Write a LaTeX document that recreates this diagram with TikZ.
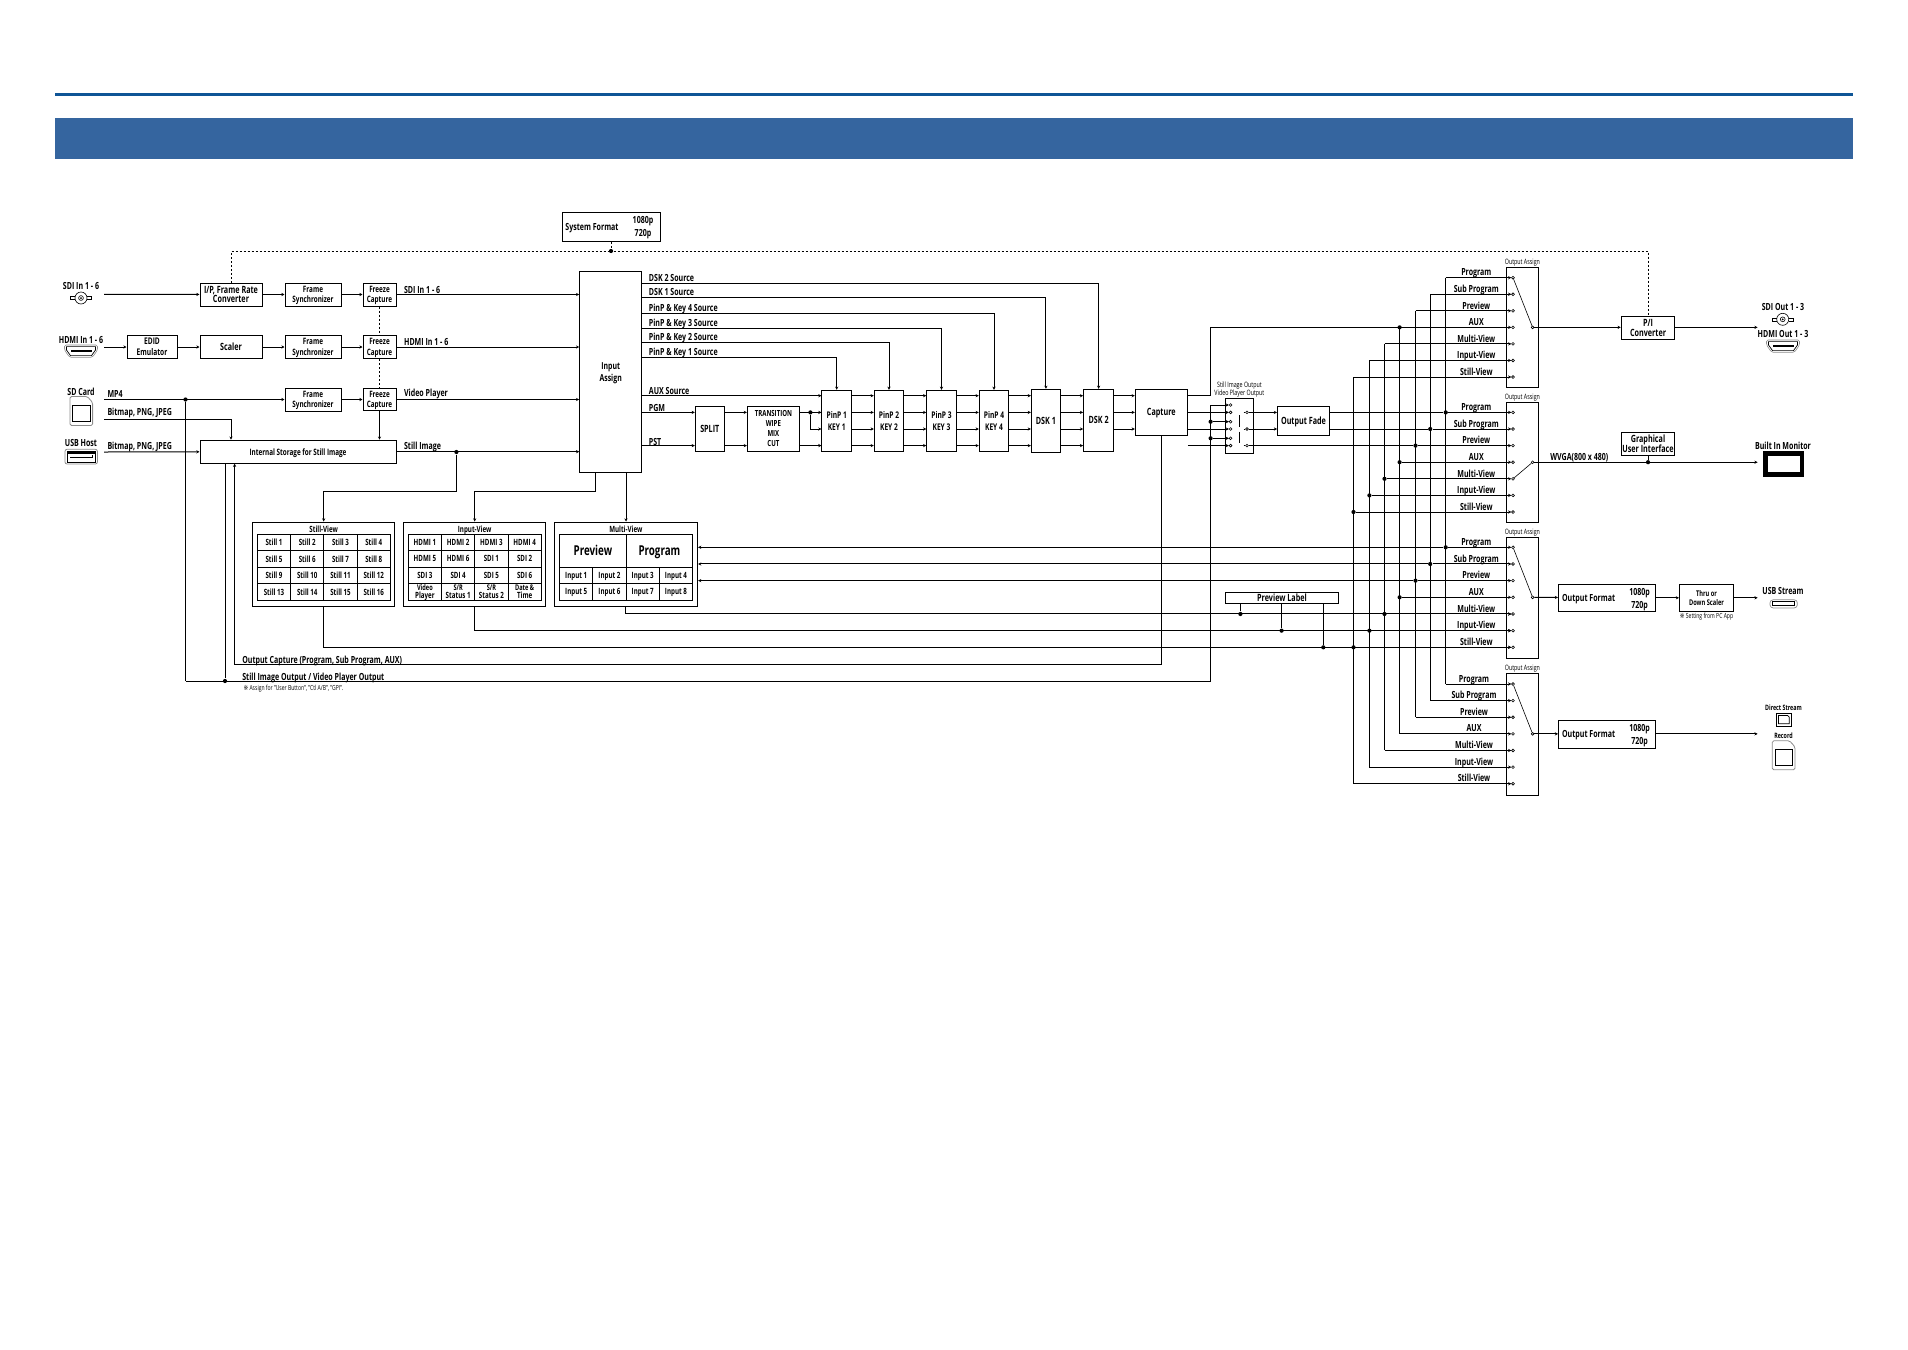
\documentclass[tikz,border=0pt]{standalone}
\usepackage{fontspec}
\setmainfont[FakeStretch=0.72]{Open Sans}
\newfontfamily\markfont[FakeStretch=0.8]{DejaVu Sans}
\usetikzlibrary{arrows.meta}
\definecolor{headrule}{HTML}{0F5596}
\definecolor{headband}{HTML}{35659F}
\definecolor{iconrim}{gray}{0.55}
\newcommand{\smallcell}{\fontsize{7.8}{7.6}\selectfont}
\tikzset{
  >={Stealth[length=3.2pt,width=3.2pt]},
  lab/.style={inner sep=0pt,text depth=0pt,font=\bfseries\fontsize{9.8}{11}\selectfont,align=center},
  reslab/.style={lab,font=\bfseries\fontsize{9.8}{12.7}\selectfont},
  tinylab/.style={inner sep=0pt,font=\fontsize{7.4}{7.6}\selectfont,align=center},
  notelab/.style={tinylab,font=\fontsize{7}{8}\selectfont},
  box/.style={draw,inner sep=0pt,text depth=0pt,font=\bfseries\fontsize{8.8}{10.7}\selectfont,align=center},
  bigbox/.style={box,font=\bfseries\fontsize{10}{10.7}\selectfont},
  cell/.style={box,font=\bfseries\fontsize{8.6}{7.8}\selectfont},
  pinpbox/.style={box,minimum width=29.5,minimum height=61,font=\bfseries\fontsize{9.2}{12}\selectfont},
  dotline/.style={dash pattern=on 2pt off 2pt},
  jdot/.style={circle,fill,inner sep=0pt,minimum size=4.2pt},
  contact/.style={circle,draw,fill=white,line width=0.6pt,inner sep=0pt,minimum size=2.8pt},
  pics/bnc/.style={code={
    \draw[line width=0.6pt] (0,0) circle (6);
    \draw[line width=0.6pt] (0,0) circle (2.4);
    \fill (0,0) circle (1);
    \draw[line width=0.6pt] (-6,-1.5) -- (-10.5,-1.5) -- (-10.5,1.5) -- (-6,1.5);
    \draw[line width=0.6pt] (6,-1.5) -- (10.5,-1.5) -- (10.5,1.5) -- (6,1.5);
  }},
  pics/hdmi/.style={code={
    \draw[iconrim,line width=0.6pt,rounded corners=1.5] (-16.5,-6) -- (16.5,-6) -- (16.5,-1) -- (11.5,6.2) -- (-11.5,6.2) -- (-16.5,-1) -- cycle;
    \draw[line width=0.7pt] (-14.5,-4.4) -- (14.5,-4.4) -- (14.5,-1) -- (10.5,4.6) -- (-10.5,4.6) -- (-14.5,-1) -- cycle;
    \fill (-10.5,-1) rectangle (10.5,1);
  }},
  pics/sdcard/.style={code={
    \draw[iconrim,line width=0.8pt,rounded corners=1.5] (-11.3,-14.5) -- (6,-14.5) -- (11.3,-8.5) -- (11.3,14.5) -- (-11.3,14.5) -- cycle;
    \draw[line width=0.8pt] (-8.6,-5.5) rectangle (8.6,10);
  }}
}
\begin{document}
\begin{tikzpicture}[x=1pt,y=-1pt,line width=1pt]
  \useasboundingbox (0,0) rectangle (1908,1349);
  \fill[headrule] (55,93) rectangle (1853,96);
  \fill[headband] (55,118) rectangle (1853,159);

  % output assign
  \foreach \oa/\ya/\dy/\ytop/\ybot/\xlab in {oa1/277.7/16.55/267.3/387.3/1476.3,oa2/412.4/16.6/402.3/522.3/1476.3,oa3/547.3/16.67/537.3/658.3/1476.3,oa4/684/16.62/673.3/795.3/1474} {
    \draw (1506.5,\ytop) rectangle (1538.8,\ybot);
    \node[tinylab] (\oa-title) at (1522.4,\ytop-5) {Output Assign};
    \foreach \lab [count=\i] in {Program,Sub Program,Preview,AUX,Multi-View,Input-View,Still-View} {
      \pgfmathsetmacro\yy{\ya+(\i-1)*\dy}
      \node[contact] (\oa-\i) at (1513,\yy) {};
      \node[lab] (\oa-lab\i) at (\xlab,\yy-5.5) {\lab};
    }
    \node[contact] (\oa-out) at (1532.6,{\ya+3*\dy}) {};
  }
  \draw[line width=0.6pt] (oa1-1) -- (oa1-out);
  \draw[line width=0.6pt] (oa2-5) -- (oa2-out);
  \draw[line width=0.6pt] (oa3-1) -- (oa3-out);
  \draw[line width=0.6pt] (oa4-1) -- (oa4-out);

  \coordinate (auxrow) at (0,395.7);
  \coordinate (pgmrow) at (oa2-1);
  \coordinate (keyrow) at (oa2-2);
  \coordinate (pstrow) at (oa2-3);
  \coordinate (viewrow) at (0,491);
  \coordinate (capturerow) at (234.6,664);
  \coordinate (stillrow) at (225,681);

  % inputs
  \node[lab] (sdilabel) at (81,285.7) {SDI In 1 - 6};
  \pic at (81,298) {bnc};
  \node[lab] (hdmilabel) at (81,339.7) {HDMI In 1 - 6};
  \pic at (81,351) {hdmi};
  \node[lab] (sdlabel) at (81,391.3) {SD Card};
  \pic at (81.3,411) {sdcard};
  \node[lab] (usblabel) at (81,443.3) {USB Host};
  \draw[iconrim,line width=0.8pt,rounded corners=2] (65,449.3) rectangle (97.4,464);
  \draw[line width=0.7pt] (67.5,451.5) rectangle (95,462);
  \draw[line width=1.6pt] (68,453) -- (94.5,453);
  \draw[line width=0.7pt] (70,457) -- (92,457) -- (92,455);
  \coordinate (sdiin) at (104,294.3);
  \coordinate (hdmiin) at (104,347);
  \coordinate (mp4in) at (104,399.5);
  \coordinate (sdbitmap) at (104,419);
  \coordinate (usbin) at (104,452);
  \node[lab,anchor=west] (mp4label) at (107,393.7) {MP4};
  \node[lab,anchor=west] (sdbitmaplabel) at (107,412) {Bitmap, PNG, JPEG};
  \node[lab,anchor=west] (usbbitmaplabel) at (107,445.7) {Bitmap, PNG, JPEG};

  \node[bigbox,minimum width=62,minimum height=23,font=\bfseries\fontsize{10}{9.5}\selectfont] (ipconv) at (231,294.5) {I/P, Frame Rate\\Converter};
  \node[box,minimum width=56,minimum height=23] (frame1) at (313,294.5) {Frame\\Synchronizer};
  \node[box,minimum width=33,minimum height=23] (freeze1) at (379.5,294.5) {Freeze\\Capture};
  \node[box,minimum width=50,minimum height=23,font=\bfseries\fontsize{9.2}{11}\selectfont] (edid) at (152,347) {EDID\\Emulator};
  \node[bigbox,minimum width=62,minimum height=23] (scaler) at (231,347) {Scaler};
  \node[box,minimum width=56,minimum height=23] (frame2) at (313,347) {Frame\\Synchronizer};
  \node[box,minimum width=33,minimum height=23] (freeze2) at (379.5,347) {Freeze\\Capture};
  \node[box,minimum width=56,minimum height=23] (frame3) at (313,399.5) {Frame\\Synchronizer};
  \node[box,minimum width=33,minimum height=22] (freeze3) at (379.5,399.5) {Freeze\\Capture};
  \node[box,minimum width=196,minimum height=23] (storage) at (298,451.7) {Internal Storage for Still Image};
  \node[box,minimum width=62,minimum height=201,font=\bfseries\fontsize{9.6}{12.2}\selectfont] (inassign) at (610.7,371.8) {Input\\Assign};

  \draw[->] (sdiin) -- (ipconv);
  \draw[->] (ipconv) -- (frame1);
  \draw[->] (frame1) -- (freeze1);
  \draw[->] (freeze1) -- (inassign.west |- freeze1);
  \draw[->] (hdmiin) -- (edid);
  \draw[->] (edid) -- (scaler);
  \draw[->] (scaler) -- (frame2);
  \draw[->] (frame2) -- (freeze2);
  \draw[->] (freeze2) -- (inassign.west |- freeze2);
  \draw[->] (mp4in) -- (frame3);
  \draw[->] (frame3) -- (freeze3);
  \draw[->] (freeze3) -- (inassign.west |- freeze3);
  \draw[->] (freeze3) -- (storage.north -| freeze3);
  \draw[->] (sdbitmap) -| (storage.north -| ipconv);
  \draw[->] (usbin) -- (storage);
  \draw[->] (storage) -- (inassign.west |- storage);
  \draw[dotline] (freeze1) -- (freeze2) -- (freeze3);
  \node[lab,anchor=west] (sdioutlabel) at (403.6,290) {SDI In 1 - 6};
  \node[lab,anchor=west] (hdmioutlabel) at (403.6,342.3) {HDMI In 1 - 6};
  \node[lab,anchor=west] (playerlabel) at (403.6,392.7) {Video Player};
  \node[lab,anchor=west] (stilllabel) at (403.6,445.7) {Still Image};

  % system format
  \node[box,minimum width=98,minimum height=29] (sysformat) at (611,226.5) {};
  \node[lab] (sysname) at (592,226.5) {System Format};
  \node[reslab] (sysres) at (643,226.7) {1080p\\720p};
  \node[jdot] (sysdot) at (611,251) {};
  \draw[dotline] (sysformat) -- (sysdot);

  % views
  \node[box,minimum width=142.5,minimum height=84] (stillview) at (323.7,564) {};
  \node[box,minimum width=142.5,minimum height=84] (inputview) at (474.7,564) {};
  \node[box,minimum width=143.6,minimum height=84] (multiview) at (625.8,564) {};
  \node[cell,draw=none] (stilltitle) at (323.7,529.3) {Still-View};
  \node[cell,draw=none] (inputtitle) at (474.7,529.3) {Input-View};
  \node[cell,draw=none] (multititle) at (625.8,529.3) {Multi-View};
  \foreach \t [count=\i from 0] in {Still 1,Still 2,Still 3,Still 4,Still 5,Still 6,Still 7,Still 8,Still 9,Still 10,Still 11,Still 12,Still 13,Still 14,Still 15,Still 16} {
    \pgfmathtruncatemacro\c{mod(\i,4)}
    \pgfmathtruncatemacro\r{div(\i,4)}
    \node[cell,minimum width=33.25,minimum height=16.5] (still\i) at (274+33.25*\c,542.25+16.5*\r) {\t};
  }
  \foreach \t [count=\i from 0] in {HDMI 1,HDMI 2,HDMI 3,HDMI 4,HDMI 5,HDMI 6,SDI 1,SDI 2,SDI 3,SDI 4,SDI 5,SDI 6,{\smallcell Video\\Player},{\smallcell S/R\\Status 1},{\smallcell S/R\\Status 2},{\smallcell Date \&\\Time}} {
    \pgfmathtruncatemacro\c{mod(\i,4)}
    \pgfmathtruncatemacro\r{div(\i,4)}
    \node[cell,minimum width=33.25,minimum height=16.5] (input\i) at (424.9+33.25*\c,542.25+16.5*\r) {\t};
  }
  \node[cell,minimum width=66.5,minimum height=33,font=\bfseries\fontsize{13.6}{15}\selectfont] (mvpreview) at (592.9,550.5) {Preview};
  \node[cell,minimum width=66.5,minimum height=33,font=\bfseries\fontsize{13.6}{15}\selectfont] (mvprogram) at (659.4,550.5) {Program};
  \foreach \t [count=\i from 0] in {Input 1,Input 2,Input 3,Input 4,Input 5,Input 6,Input 7,Input 8} {
    \pgfmathtruncatemacro\c{mod(\i,4)}
    \pgfmathtruncatemacro\r{div(\i,4)}
    \node[cell,minimum width=33.25,minimum height=16.5] (multi\i) at (576.2+33.25*\c,575.25+16.5*\r) {\t};
  }

  \node[jdot] (stilldot) at (456.4,452) {};
  \draw[->] (stilldot) -- (stilldot |- viewrow) -| (stillview.north);
  \coordinate (inputdrop) at (595,472.3);
  \coordinate (multidrop) at (626,472.3);
  \draw[->] (inputdrop) -- (inputdrop |- viewrow) -| (inputview.north);
  \draw[->] (multidrop) -- (multiview.north -| multidrop);

  % programme chain
  \node[bigbox,minimum width=29,minimum height=45] (split) at (709.8,428.8) {SPLIT};
  \node[box,minimum width=52,minimum height=45,font=\bfseries\fontsize{8.4}{10}\selectfont] (transition) at (773.4,428.8) {TRANSITION\\WIPE\\MIX\\CUT};
  \node[pinpbox] (pinp1) at (836.7,420.8) {PinP 1\\KEY 1};
  \node[pinpbox] (pinp2) at (889,420.8) {PinP 2\\KEY 2};
  \node[pinpbox] (pinp3) at (941.5,420.8) {PinP 3\\KEY 3};
  \node[pinpbox] (pinp4) at (994,420.8) {PinP 4\\KEY 4};
  \node[bigbox,minimum width=29,minimum height=63] (dsk1) at (1045.9,420.8) {DSK 1};
  \node[bigbox,minimum width=30,minimum height=62] (dsk2) at (1098.6,420.3) {DSK 2};
  \node[bigbox,minimum width=52,minimum height=46] (capture) at (1161.3,412.3) {Capture};

  \foreach \t/\y/\tgt [count=\i] in {DSK 2 Source/283.7/dsk2,DSK 1 Source/297.7/dsk1,PinP \& Key 4 Source/313.7/pinp4,PinP \& Key 3 Source/328.3/pinp3,PinP \& Key 2 Source/342.7/pinp2,PinP \& Key 1 Source/357.7/pinp1} {
    \coordinate (srcrow\i) at (0,\y);
    \draw[->] (inassign.east |- srcrow\i) -| (\tgt.north);
    \node[lab,anchor=west] (srclabel\i) at (648.4,\y-6) {\t};
  }
  \node[lab,anchor=west] (auxlabel) at (648.4,391) {AUX Source};
  \node[lab,anchor=west] (pgmlabel) at (648.4,407.7) {PGM};
  \node[lab,anchor=west] (pstlabel) at (648.4,441.7) {PST};

  \draw[->] (inassign.east |- auxrow) -- (pinp1.west |- auxrow);
  \draw[->] (inassign.east |- pgmrow) -- (split.west |- pgmrow);
  \draw[->] (inassign.east |- pstrow) -- (split.west |- pstrow);
  \draw[->] (split.east |- pgmrow) -- (transition.west |- pgmrow);
  \draw[->] (split.east |- pstrow) -- (transition.west |- pstrow);
  \draw[->] (transition.east |- pgmrow) -- (pinp1.west |- pgmrow);
  \draw[->] (transition.east |- pstrow) -- (pinp1.west |- pstrow);
  \node[jdot] (mixdot) at (810.4,412.4) {};
  \draw[->] (mixdot) |- (pinp1.west |- keyrow);
  \foreach \a/\b in {pinp1/pinp2,pinp2/pinp3,pinp3/pinp4,pinp4/dsk1,dsk1/dsk2,dsk2/capture} {
    \foreach \row in {auxrow,pgmrow,keyrow} {
      \draw[->] (\a.east |- \row) -- (\b.west |- \row);
    }
  }
  \foreach \a/\b in {pinp1/pinp2,pinp2/pinp3,pinp3/pinp4,pinp4/dsk1,dsk1/dsk2} {
    \draw[->] (\a.east |- pstrow) -- (\b.west |- pstrow);
  }

  % still image output switch
  \node[box,minimum width=28.2,minimum height=55,label={[tinylab]above:Still Image Output\\Video Player Output}] (fadeswitch) at (1239.4,425.8) {};
  \foreach \y/\n in {405/a,412.4/b,421.7/c,429/d,438.3/e,445.6/f} {
    \node[contact] (in\n) at (1230.6,\y) {};
  }
  \foreach \n/\row in {b/pgmrow,d/keyrow,f/pstrow} {
    \node[contact] (out\n) at (1247,0 |- \row) {};
    \draw[line width=0.6pt] (1243.5,0 |- \row) -- (out\n);
    \draw[->] (capture.east |- \row) -- (in\n);
  }
  \draw[line width=0.6pt] (1239.7,415) -- (1239.7,426.7);
  \draw[line width=0.6pt] (1239.7,431.7) -- (1239.7,443.3);
  \node[bigbox,minimum width=52,minimum height=29] (fade) at (1303.5,420.8) {Output Fade};
  \draw[->] (outb) -- (fade.west |- outb);
  \draw[->] (outd) -- (fade.west |- outd);
  \coordinate (stillturn) at (1210.6,405);
  \coordinate (auxturn) at (1210.6,395.7);
  \draw[->] (stillrow) -- (stillturn |- stillrow) -- (stillturn) -- (ina);
  \draw (185.5,681) -- (stillrow);
  \node[jdot] (stilljoin) at (stillrow) {};
  \node[jdot] (switchc) at (stillturn |- inc) {};
  \node[jdot] (switche) at (stillturn |- ine) {};
  \draw[->] (switchc) -- (inc);
  \draw[->] (switche) -- (ine);
  \draw[->] (capture.east |- auxrow) -- (auxturn) -- (auxturn |- oa1-4) -- (oa1-4);

  % buses
  \foreach \k/\x in {1/1445.7,2/1430.2,3/1415.5,4/1399.6,5/1384.5,6/1369.4,7/1353.5} {
    \coordinate (bus\k) at (\x,0);
    \draw (bus\k |- oa1-\k) -- (bus\k |- oa4-\k);
    \draw[->] (bus\k |- oa4-\k) -- (oa4-\k);
    \node[jdot] (row2dot\k) at (bus\k |- oa2-\k) {};
    \node[jdot] (row3dot\k) at (bus\k |- oa3-\k) {};
    \draw[->] (row3dot\k) -- (oa3-\k);
    \draw[->] (row2dot\k) -- (oa2-\k);
  }
  \foreach \k in {1,2,3,5,6,7} {
    \draw[->] (bus\k |- oa1-\k) -- (oa1-\k);
  }
  \node[jdot] (auxdot) at (bus4 |- oa1-4) {};
  \draw (fade.east |- oa2-1) -- (row2dot1);
  \draw (fade.east |- oa2-2) -- (row2dot2);
  \draw (outf) -- (row2dot3);
  \foreach \k in {1,2,3} {
    \draw[->] (row3dot\k) -- (multiview.east |- row3dot\k);
  }
  \draw[->] (multiview.south) |- (oa3-5);
  \draw[->] (inputview.south) |- (oa3-6);
  \draw[->] (stillview.south) |- (oa3-7);

  % capture and still lines
  \draw[->] (capture.south) |- (capturerow) -- (storage.south -| capturerow);
  \node[jdot] (mp4dot) at (185.5,399.5) {};
  \draw (mp4dot) -- (185.5,681);
  \draw (stilljoin) -- (storage.south -| stilljoin);
  \node[lab,anchor=west] (capturelabel) at (241.8,659.5) {Output Capture (Program, Sub Program, AUX)};
  \node[lab,anchor=west] (stilloutlabel) at (241.8,677) {Still Image Output / Video Player Output};
  \node[notelab,anchor=west] (assignnote) at (243,688.7) {{\markfont ※} Assign for "User Button", "Ctl A/B", "GPI".};

  % preview label
  \node[bigbox,minimum width=113.5,minimum height=11] (previewlabel) at (1282,597.8) {Preview Label};
  \node[jdot] (previewdot1) at (1240.4,0 |- oa3-5) {};
  \node[jdot] (previewdot2) at (1281.6,0 |- oa3-6) {};
  \node[jdot] (previewdot3) at (1323.3,0 |- oa3-7) {};
  \draw (previewdot1) -- (previewlabel.south -| previewdot1);
  \draw (previewdot2) -- (previewlabel.south -| previewdot2);
  \draw (previewdot3) -- (previewlabel.south -| previewdot3);

  % outputs
  \node[bigbox,minimum width=53.5,minimum height=23] (piconv) at (1648,327.8) {P/I\\Converter};
  \draw[->] (oa1-out) -- (oa1-out -| piconv.west);
  \coordinate (sdiout) at (1757.6,0 |- oa1-out);
  \draw[->] (oa1-out -| piconv.east) -- (sdiout);
  \draw[dotline] (ipconv.north) |- (sysdot) -| (piconv.north);
  \node[lab] (sdiouttext) at (1783,306.7) {SDI Out 1 - 3};
  \pic at (1782.7,319.3) {bnc};
  \node[lab] (hdmiouttext) at (1783,334.3) {HDMI Out 1 - 3};
  \pic at (1783,346) {hdmi};

  \coordinate (monitorin) at (1757.6,0 |- oa2-out);
  \draw[->] (oa2-out) -- (monitorin);
  \node[bigbox,minimum width=53.5,minimum height=23] (gui) at (1648,443.8) {Graphical\\User Interface};
  \node[jdot] (guidot) at (gui.south |- oa2-out) {};
  \draw (gui) -- (guidot);
  \node[lab,anchor=west] (wvgalabel) at (1549.8,457) {WVGA(800 x 480)};
  \node[lab] (monitorlabel) at (1783,445.7) {Built In Monitor};
  \node[draw,line width=4.5pt,fill=white,minimum width=36.5,minimum height=21,inner sep=0pt] (monitor) at (1783.6,464) {};

  \node[box,minimum width=97,minimum height=27] (format1) at (1607,597.8) {};
  \node[lab] (format1name) at (1588.6,598) {Output Format};
  \node[reslab] (format1res) at (1639.6,598.4) {1080p\\720p};
  \node[box,minimum width=54,minimum height=27,font=\bfseries\fontsize{7.9}{9.4}\selectfont] (scalerout) at (1706.5,597.8) {Thru or\\Down Scaler};
  \node[notelab] (pcnote) at (1706.5,617) {{\markfont ※} Setting from PC App};
  \draw[->] (oa3-out) -- (format1);
  \draw[->] (format1) -- (scalerout);
  \coordinate (usbout) at (1757.6,597.8);
  \draw[->] (scalerout) -- (usbout);
  \node[lab] (usbstreamlabel) at (1783,591.3) {USB Stream};
  \draw[iconrim,line width=0.7pt,rounded corners=3] (1770,599.8) rectangle (1797.3,607.9);
  \draw[line width=1pt] (1772.8,601.8) rectangle (1794.5,605.8);

  \node[box,minimum width=97,minimum height=28] (format2) at (1607,734.3) {};
  \node[lab] (format2name) at (1588.6,734.3) {Output Format};
  \node[reslab] (format2res) at (1639.6,734.6) {1080p\\720p};
  \draw[->] (oa4-out) -- (format2.west |- oa4-out);
  \coordinate (recordout) at (1757.6,0 |- oa4-out);
  \draw[->] (format2.east |- oa4-out) -- (recordout);
  \node[lab,font=\bfseries\fontsize{7.4}{8}\selectfont] (directlabel) at (1783.5,707.7) {Direct Stream};
  \draw (1776,713) rectangle (1791.6,726.5);
  \draw[line width=0.7pt] (1778.5,715.4) -- (1787.5,715.4) -- (1789.2,717.2) -- (1789.2,723.8) -- (1778.5,723.8) -- cycle;
  \node[lab,font=\bfseries\fontsize{7.4}{8}\selectfont] (recordlabel) at (1783.5,735.7) {Record};
  \pic at (1783.6,755.3) {sdcard};
\end{tikzpicture}
\end{document}
